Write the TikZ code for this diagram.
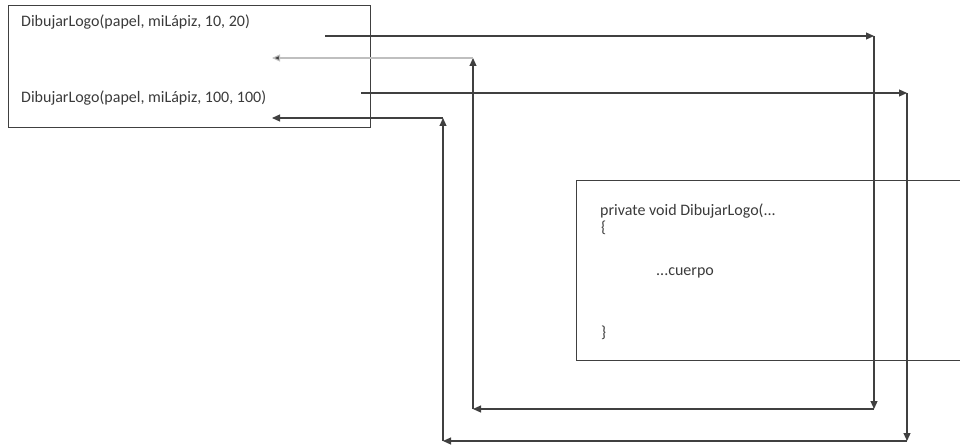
\documentclass[tikz,border=0pt]{standalone}
\usepackage{fontspec}
\setmainfont{Carlito}
\usetikzlibrary{arrows.meta,positioning}
\definecolor{lineGray}{HTML}{404040}
\definecolor{textGray}{HTML}{3A3A3A}

\begin{document}
\begin{tikzpicture}[
    x=1pt, y=-1pt,
    every node/.style={font=\fontsize{16}{18}\selectfont, text=textGray, inner sep=0pt},
    box/.style={draw=lineGray, line width=1pt},
    flecha/.style={-{Triangle[length=8pt, width=7pt]}, draw=lineGray, line width=1.1pt},
    retorno/.style={-{Triangle[length=8pt, width=7pt, fill=lineGray]}, draw=black!25, line width=1.1pt},
  ]
  \useasboundingbox (0,0) rectangle (960,446);

  % Calling code box
  \node[box, anchor=north west, minimum width=362pt, minimum height=122pt] (llamadas) at (8,5) {};
  \node[anchor=base west] (llamada1) at (21,27) {DibujarLogo(papel, miLápiz, 10, 20)};
  \node[anchor=base west] (llamada2) at (21,103) {DibujarLogo(papel, miLápiz, 100, 100)};

  % Method box (open to the right)
  \draw[box] (960,181) -- (576,181) -- (576,360) -- (960,360);
  \node[anchor=base west] (cabecera) at (600,215) {private void DibujarLogo(...};
  \node[anchor=base west] (abre) at (601,233) {\{};
  \node[anchor=base west] (cuerpo) at (656,275) {...cuerpo};
  \node[anchor=base west] (cierra) at (601,337) {\}};

  % Corners of the first call
  \coordinate (ida1) at (325,36);
  \coordinate (esq1a) at (874,36);
  \coordinate (esq1b) at (874,409);
  \coordinate (esq1c) at (473,409);
  \coordinate (esq1d) at (473,58);
  \coordinate (vuelta1) at (272,58);

  % Corners of the second call
  \coordinate (ida2) at (361,93);
  \coordinate (esq2a) at (907,93);
  \coordinate (esq2b) at (907,441);
  \coordinate (esq2c) at (443,441);
  \coordinate (esq2d) at (443,118);
  \coordinate (vuelta2) at (272,118);

  % First call and return
  \draw[flecha] (ida1) -- (esq1a);
  \draw[flecha] (esq1a) -- (esq1b);
  \draw[flecha] (esq1b) -- (esq1c);
  \draw[flecha] (esq1c) -- (esq1d);
  \draw[retorno] (esq1d) -- (vuelta1);

  % Second call and return
  \draw[flecha] (ida2) -- (esq2a);
  \draw[flecha] (esq2a) -- (esq2b);
  \draw[flecha] (esq2b) -- (esq2c);
  \draw[flecha] (esq2c) -- (esq2d);
  \draw[flecha] (esq2d) -- (vuelta2);
\end{tikzpicture}
\end{document}
